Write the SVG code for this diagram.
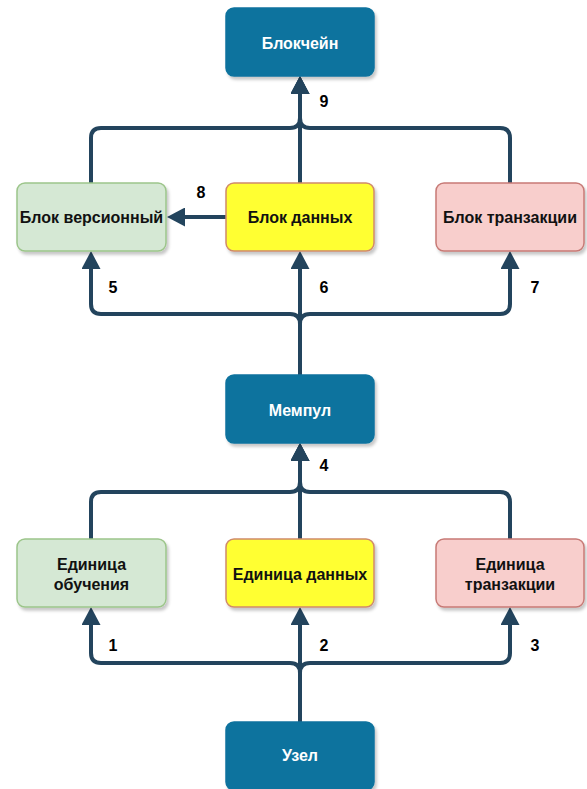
<svg xmlns="http://www.w3.org/2000/svg" width="587" height="789" viewBox="0 0 587 789">
  <style>
    .box { stroke-width: 1.5; filter: url(#shadow); }
    .dark { fill: #10739e; stroke: #10739e; }
    .green { fill: #d5e8d4; stroke: #9cc58a; }
    .yellow { fill: #ffff33; stroke: #d08a6a; }
    .pink { fill: #f8cecc; stroke: #c77a76; }
    .lbl { font-family: "Liberation Sans", Arial, sans-serif; font-size: 16px; font-weight: bold; text-anchor: middle; }
    .light { fill: #ffffff; }
    .ink { fill: #111111; }
    .edge { fill: none; stroke: #23445d; stroke-width: 4; stroke-linejoin: round; marker-end: url(#arrow); }
    .num { font-family: "Liberation Sans", Arial, sans-serif; font-size: 16px; font-weight: bold; fill: #000; text-anchor: middle; }
  </style>
  <defs>
    <filter id="shadow" x="-10%" y="-10%" width="130%" height="140%">
      <feDropShadow dx="2" dy="3" stdDeviation="1.5" flood-color="#000" flood-opacity="0.22"/>
    </filter>
    <marker id="arrow" viewBox="0 0 18 19" refX="0" refY="9.5" markerWidth="18" markerHeight="19" markerUnits="userSpaceOnUse" orient="auto">
      <path d="M0,0 L18,9.5 L0,19 Z" fill="#23445d"/>
    </marker>
  </defs>

  <!-- connectors -->
  <g id="edges">
    <!-- blocks to blockchain -->
    <path class="edge" d="M91,183 V138 Q91,128 101,128 H290 Q300,128 300,118 V94"/>
    <path class="edge" d="M300,183 V94"/>
    <path class="edge" d="M510,183 V138 Q510,128 500,128 H310 Q300,128 300,118 V94"/>
    <!-- data block to version block -->
    <path class="edge" d="M226,217 H185"/>
    <!-- mempool to blocks -->
    <path class="edge" d="M300,375 V324 Q300,314 290,314 H101 Q91,314 91,304 V269"/>
    <path class="edge" d="M300,375 V269"/>
    <path class="edge" d="M300,375 V324 Q300,314 310,314 H500 Q510,314 510,304 V269"/>
    <!-- units to mempool -->
    <path class="edge" d="M91,539 V502 Q91,492 101,492 H290 Q300,492 300,482 V461"/>
    <path class="edge" d="M300,539 V461"/>
    <path class="edge" d="M510,539 V502 Q510,492 500,492 H310 Q300,492 300,482 V461"/>
    <!-- node to units -->
    <path class="edge" d="M300,722 V673 Q300,663 290,663 H101 Q91,663 91,653 V625"/>
    <path class="edge" d="M300,722 V625"/>
    <path class="edge" d="M300,722 V673 Q300,663 310,663 H500 Q510,663 510,653 V625"/>

    <text class="num" x="324" y="107">9</text>
    <text class="num" x="201" y="198">8</text>
    <text class="num" x="113" y="293">5</text>
    <text class="num" x="324" y="293">6</text>
    <text class="num" x="535" y="293">7</text>
    <text class="num" x="324" y="471">4</text>
    <text class="num" x="113" y="651">1</text>
    <text class="num" x="324" y="651">2</text>
    <text class="num" x="535" y="651">3</text>
  </g>

  <!-- nodes -->
  <g id="blockchain">
    <rect class="box dark" x="226" y="8" width="148" height="68" rx="8"/>
    <text class="lbl light" x="300" y="49">Блокчейн</text>
  </g>
  <g id="version-block">
    <rect class="box green" x="17" y="183" width="149" height="68" rx="8"/>
    <text class="lbl ink" x="91.5" y="223">Блок версионный</text>
  </g>
  <g id="data-block">
    <rect class="box yellow" x="226" y="183" width="148" height="68" rx="8"/>
    <text class="lbl ink" x="300" y="223">Блок данных</text>
  </g>
  <g id="transaction-block">
    <rect class="box pink" x="436" y="183" width="148" height="68" rx="8"/>
    <text class="lbl ink" x="510" y="223">Блок транзакции</text>
  </g>
  <g id="mempool">
    <rect class="box dark" x="226" y="375" width="148" height="68" rx="8"/>
    <text class="lbl light" x="300" y="416">Мемпул</text>
  </g>
  <g id="learning-unit">
    <rect class="box green" x="17" y="539" width="149" height="68" rx="8"/>
    <text class="lbl ink" x="91.5" y="570">Единица</text>
    <text class="lbl ink" x="91.5" y="590">обучения</text>
  </g>
  <g id="data-unit">
    <rect class="box yellow" x="226" y="539" width="148" height="68" rx="8"/>
    <text class="lbl ink" x="300" y="580">Единица данных</text>
  </g>
  <g id="transaction-unit">
    <rect class="box pink" x="436" y="539" width="148" height="68" rx="8"/>
    <text class="lbl ink" x="510" y="570">Единица</text>
    <text class="lbl ink" x="510" y="590">транзакции</text>
  </g>
  <g id="node">
    <rect class="box dark" x="226" y="722" width="148" height="68" rx="8"/>
    <text class="lbl light" x="300" y="761">Узел</text>
  </g>
</svg>
